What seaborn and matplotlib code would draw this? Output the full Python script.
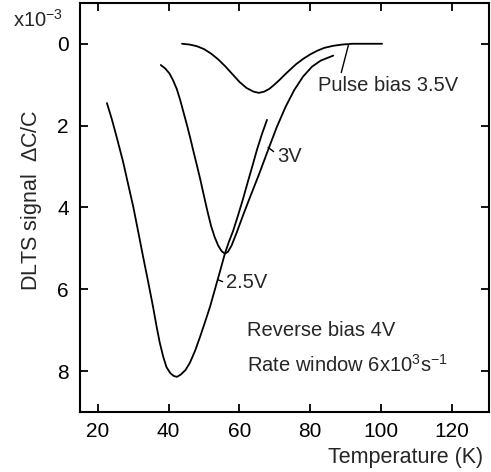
import numpy as np
import pandas as pd
import seaborn as sns
import matplotlib
matplotlib.use("Agg")
import matplotlib.pyplot as plt

# DLTS spectra (temperature in K, signal in units of 1e-3)
temp_25 = [22.6, 24, 25.5, 27.2, 28.5, 30, 31.4, 32.8, 34.2, 35.6, 36.6, 37.5,
           38.5, 39.4, 40.5, 41.5, 42.4, 43.5, 44.8, 46.0, 47.5, 48.9, 50.3,
           51.7, 53.1, 54.5, 55.9, 57, 58.2, 59.6, 61, 62.3, 63.7, 65, 66.4, 67.8]
sig_25 = [1.45, 1.85, 2.33, 2.9, 3.4, 3.97, 4.58, 5.2, 5.8, 6.42, 6.9, 7.3,
          7.65, 7.9, 8.05, 8.12, 8.14, 8.08, 7.97, 7.8, 7.5, 7.16, 6.8,
          6.43, 6.0, 5.57, 5.13, 4.85, 4.58, 4.2, 3.8, 3.4, 2.98, 2.58, 2.2, 1.86]

temp_3 = [37.8, 39, 40.2, 41.2, 42.3, 43.3, 44.3, 45.3, 46.2, 47, 48, 49, 50,
          51, 52, 53, 54, 55, 55.9, 56.8, 57.8, 59.3, 61, 63, 65.5, 68, 70.5,
          73, 75.5, 78, 80.5, 83, 86.5]
sig_3 = [0.52, 0.6, 0.72, 0.88, 1.1, 1.38, 1.7, 2.02, 2.33, 2.62, 2.97, 3.33,
         3.72, 4.1, 4.45, 4.72, 4.93, 5.07, 5.13, 5.08, 4.93, 4.6, 4.2, 3.75,
         3.2, 2.62, 2.05, 1.55, 1.13, 0.8, 0.56, 0.41, 0.29]

temp_35 = [43.8, 46, 48, 50, 52, 54, 56, 58, 60, 62, 64, 65.5, 67, 68.5, 70,
           71.5, 73, 74.5, 76, 78, 80, 82, 84, 86.5, 89, 92, 96, 100.3]
sig_35 = [0.0, 0.02, 0.06, 0.13, 0.24, 0.38, 0.55, 0.74, 0.93, 1.08, 1.17, 1.2,
          1.17, 1.1, 0.99, 0.87, 0.74, 0.62, 0.5, 0.37, 0.26, 0.17, 0.1, 0.05,
          0.02, 0.0, 0.0, 0.0]

x_ticks = [20, 40, 60, 80, 100, 120]
y_ticks = [0, 2, 4, 6, 8]

sns.set_style("ticks")
plt.rcParams['font.family'] = ['Liberation Sans', 'DejaVu Sans']
plt.rcParams['mathtext.fontset'] = 'custom'
plt.rcParams['mathtext.rm'] = 'Liberation Sans'

fig = plt.figure(figsize=(4.91, 4.72), dpi=100)
ax = fig.add_axes([0.163, 0.127, 0.833, 0.867])

for t, s in [(temp_25, sig_25), (temp_3, sig_3), (temp_35, sig_35)]:
    df = pd.DataFrame({'T': t, 'S': s})
    sns.lineplot(data=df, x='T', y='S', ax=ax, color='black', lw=1.3,
                 sort=False, estimator=None)

ax.set_xlim(15, 130.5)
ax.set_ylim(9, -1)
ax.set_xticks(x_ticks)
ax.set_yticks(y_ticks)
ax.tick_params(direction='in', top=True, right=True, length=6, width=1.3,
               labelsize=15, colors='black')
ax.tick_params(axis='x', pad=7)
ax.tick_params(axis='y', pad=8)
for sp in ax.spines.values():
    sp.set_linewidth(1.5)
    sp.set_color('black')

fs = 14.5
ax.set_xlabel("Temperature (K)", fontsize=15.5)
ax.xaxis.set_label_coords(0.985, -0.1247)
ax.xaxis.label.set_horizontalalignment('right')
ax.xaxis.label.set_verticalalignment('baseline')
ax.set_ylabel(r"DLTS signal  $\Delta$C/C", fontsize=15.5)
ax.yaxis.set_label_coords(-0.088, 0.518)

fig.text(0.026, 0.958, r"x10$^{-3}$", fontsize=fs, ha='left', va='center')

# curve labels with leader lines
ax.annotate("Pulse bias 3.5V", xy=(90.8, 0.03), xytext=(82.2, 1.15),
            fontsize=fs, ha='left', va='baseline',
            arrowprops=dict(arrowstyle='-', lw=1, color='black',
                            shrinkA=0, shrinkB=0, relpos=(0.16, 1.0)))
ax.annotate("3V", xy=(68.1, 2.53), xytext=(70.6, 2.88),
            fontsize=fs, ha='left', va='baseline',
            arrowprops=dict(arrowstyle='-', lw=1, color='black',
                            shrinkA=0, shrinkB=0, relpos=(0, 0.6)))
ax.annotate("2.5V", xy=(54.0, 5.77), xytext=(56.2, 5.98),
            fontsize=fs, ha='left', va='baseline',
            arrowprops=dict(arrowstyle='-', lw=1, color='black',
                            shrinkA=0, shrinkB=0, relpos=(0, 0.5)))

ax.text(62.2, 7.14, "Reverse bias 4V", fontsize=fs, ha='left', va='baseline')
ax.text(62.2, 8.02, r"Rate window 6x10$^{3}$s$^{-1}$", fontsize=fs,
        ha='left', va='baseline')

fig.savefig("out.png", dpi=100)
